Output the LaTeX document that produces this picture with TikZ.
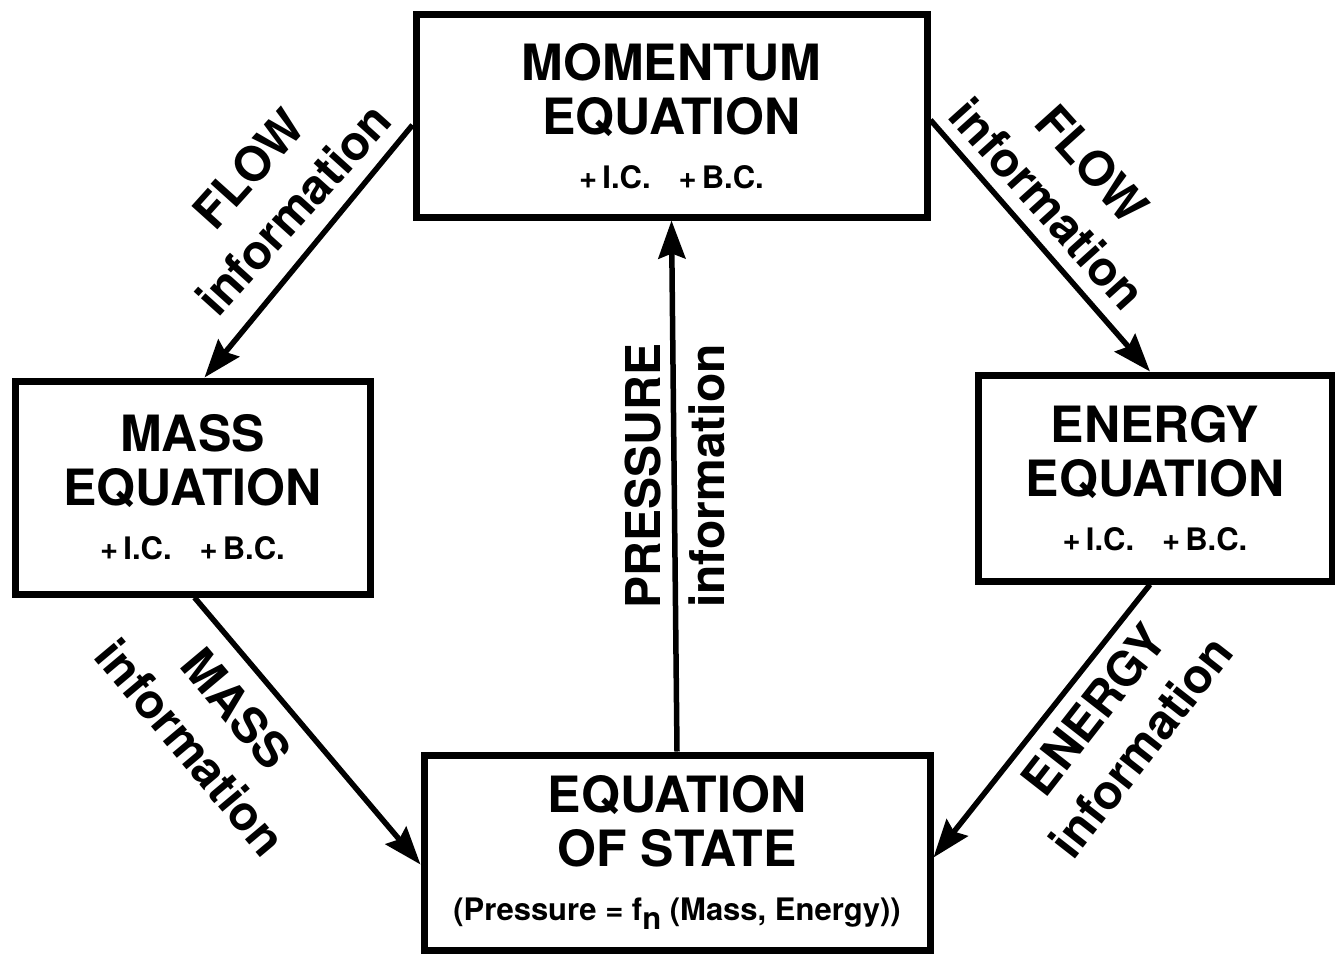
\documentclass[tikz,border=0pt]{standalone}
\usepackage{fontspec}
\setmainfont{TeX Gyre Heros}
\usetikzlibrary{arrows.meta}
\newcommand{\bigtxt}{\fontsize{50}{54}\selectfont}
\newcommand{\smalltxt}{\fontsize{31}{54}\selectfont}
\newcommand{\icbc}{+\,I.C.\hspace{0.9em}+\,B.C.}
\tikzset{
  eqbox/.style={draw, line width=7pt, align=center, inner sep=0pt, font=\bfseries\bigtxt},
  arr/.style={line width=5.5pt, -{Stealth[length=38pt,width=27pt,inset=5pt]}},
  lab/.style={align=center, inner sep=0pt, font=\bfseries\fontsize{48}{60}\selectfont},
}
\begin{document}
\begin{tikzpicture}[x=1pt,y=-1pt]
\useasboundingbox (0,0) rectangle (1335,955);
\node[eqbox, minimum width=511pt, minimum height=202pt] (mom) at (671.5,116)
  {MOMENTUM\\EQUATION\\\smalltxt \icbc};
\node[eqbox, minimum width=355pt, minimum height=213pt] (mass) at (192.5,487.5)
  {MASS\\EQUATION\\\smalltxt \icbc};
\node[eqbox, minimum width=354pt, minimum height=206pt] (en) at (1155,478)
  {ENERGY\\EQUATION\\\smalltxt \icbc};
\node[eqbox, minimum width=506pt, minimum height=195pt] (eos) at (677,852.5)
  {EQUATION\\OF STATE\\\smalltxt (Pressure = f\raisebox{-9pt}{n} (Mass, Energy))};

\draw[arr] ([yshift=-9pt]mom.west) -- ([xshift=12pt]mass.north);
\draw[arr] ([yshift=-4pt]mom.east) -- ([xshift=-5pt]en.north);
\draw[arr] ([xshift=2pt]mass.south) -- ([yshift=-12pt]eos.west);
\draw[arr] ([xshift=-5pt]en.south) -- ([yshift=-5pt]eos.east);
\draw[arr] (eos.north) -- (mom.south);

\node[lab, rotate=48] (lflow) at (271,189) {FLOW\\information};
\node[lab, rotate=-48] (rflow) at (1070,184) {FLOW\\information};
\node[lab, rotate=-50] (lmass) at (214,728) {MASS\\information};
\node[lab, rotate=52] (lenergy) at (1117,728) {ENERGY\\information};
\node[lab, rotate=90, font=\bfseries\fontsize{48}{64}\selectfont] (lpress) at (675,476) {PRESSURE\\information};
\end{tikzpicture}
\end{document}
